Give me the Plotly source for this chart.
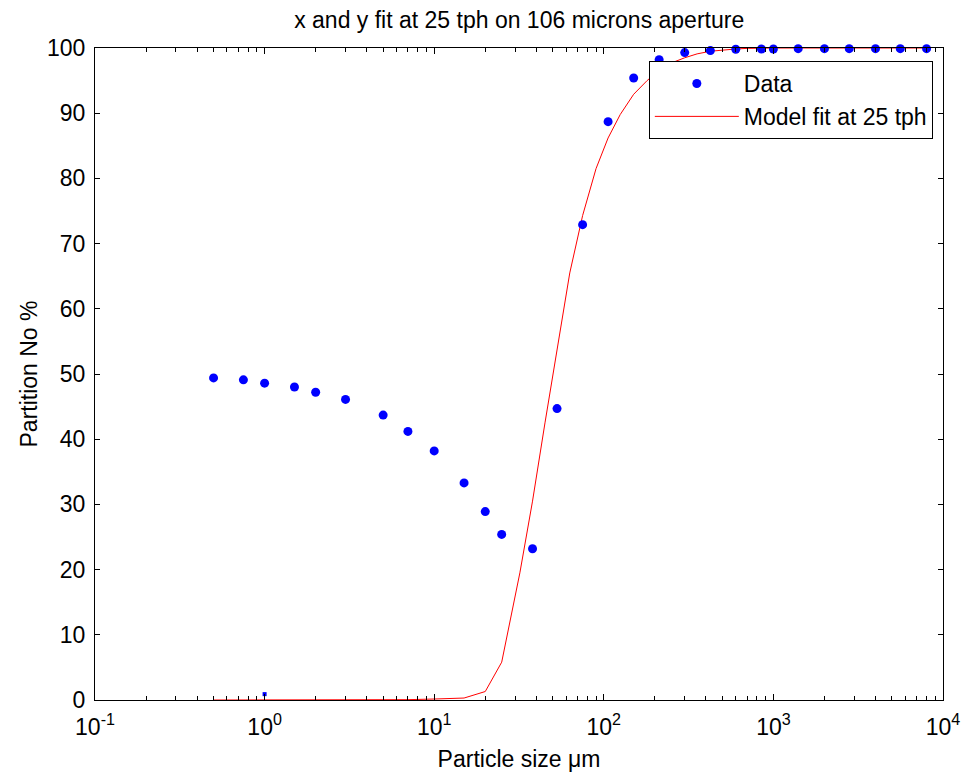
import plotly.graph_objects as go

# Data points (particle size in microns, partition number %)
size_um = [0.5, 0.75, 1, 1.5, 2, 3, 5, 7, 10, 15, 20, 25, 38, 53, 75, 106, 150,
           212, 300, 425, 600, 850, 1000, 1400, 2000, 2800, 4000, 5600, 8000]
partition = [49.4, 49.1, 48.6, 48.0, 47.2, 46.1, 43.7, 41.2, 38.2, 33.3, 28.9, 25.4,
             23.2, 44.7, 72.9, 88.7, 95.4, 98.2, 99.3, 99.6, 99.8, 99.85, 99.85,
             99.9, 99.9, 99.9, 99.9, 99.9, 99.9]

# Stray small marker near x=1
extra_x = [1]
extra_y = [0.9]

# Model fit curve
model_size = [0.5, 0.75, 1, 1.5, 2, 3, 5, 7, 10, 15, 20, 25, 32, 38, 45, 53, 63, 75,
              90, 106, 125, 150, 180, 212, 250, 300, 355, 425, 500, 600, 710, 850,
              1000, 1400, 2000, 2800, 4000, 5600, 8000]
model_part = [0, 0, 0, 0, 0, 0, 0, 0.05, 0.15, 0.3, 1.3, 5.8, 19.5, 30.5, 42.5, 53.8,
              65.5, 74.3, 81.5, 86.2, 89.8, 92.9, 95.0, 96.6, 97.7, 98.5, 99.1, 99.5,
              99.7, 99.85, 99.95, 100, 100, 100, 100, 100, 100, 100, 100]

x_tickvals = [0.1, 1, 10, 100, 1000, 10000]
x_ticktext = ["10<sup>-1</sup>", "10<sup>0</sup>", "10<sup>1</sup>",
              "10<sup>2</sup>", "10<sup>3</sup>", "10<sup>4</sup>"]
y_tickvals = [0, 10, 20, 30, 40, 50, 60, 70, 80, 90, 100]

FONT = "Liberation Sans, Arial, sans-serif"
FS = 23

fig = go.Figure()
fig.add_trace(go.Scatter(
    x=model_size, y=model_part, mode="lines", name="Model fit at 25 tph",
    line=dict(color="#ff0000", width=1), cliponaxis=True))
fig.add_trace(go.Scatter(
    x=size_um, y=partition, mode="markers", name="Data",
    marker=dict(color="#0000ff", size=9, line=dict(width=0)), cliponaxis=False))
fig.add_trace(go.Scatter(
    x=extra_x, y=extra_y, mode="markers", showlegend=False,
    marker=dict(color="#0000ff", size=4, symbol="square", line=dict(width=0)),
    cliponaxis=False))

fig.update_layout(
    width=962, height=774,
    paper_bgcolor="white", plot_bgcolor="white",
    margin=dict(l=95, r=19, t=48, b=74, autoexpand=False),
    font=dict(family=FONT, size=FS, color="black"),
    title=dict(text="x and y fit at 25 tph on 106 microns aperture",
               x=0.5397, xanchor="center", y=0.974, yanchor="middle",
               font=dict(size=FS)),
    showlegend=True,
    legend=dict(x=0.988, xanchor="right", y=0.98, yanchor="top",
                bordercolor="black", borderwidth=1, bgcolor="white",
                font=dict(size=FS), traceorder="reversed",
                itemwidth=84),
)

fig.update_xaxes(
    type="log", range=[-1, 4],
    tickmode="array", tickvals=x_tickvals, ticktext=x_ticktext,
    ticks="inside", ticklen=6, tickcolor="black",
    minor=dict(ticks="inside", ticklen=4, tickcolor="black", dtick="D1", showgrid=False),
    showline=True, linecolor="black", linewidth=1, mirror="allticks",
    showgrid=False, zeroline=False,
    tickfont=dict(size=FS), ticklabelstandoff=6,
    title=dict(text="Particle size μm", font=dict(size=FS), standoff=12),
)
fig.update_yaxes(
    range=[0, 100], tickmode="array", tickvals=y_tickvals,
    ticks="inside", ticklen=5, tickcolor="black",
    showline=True, linecolor="black", linewidth=1, mirror="allticks",
    showgrid=False, zeroline=False,
    tickfont=dict(size=FS), ticklabelstandoff=4,
    title=dict(text="Partition No %", font=dict(size=FS), standoff=2),
)

fig.write_html("out.html",
               config={"displayModeBar": False},
               post_script="document.body.style.margin='0';document.body.style.overflow='hidden';")
